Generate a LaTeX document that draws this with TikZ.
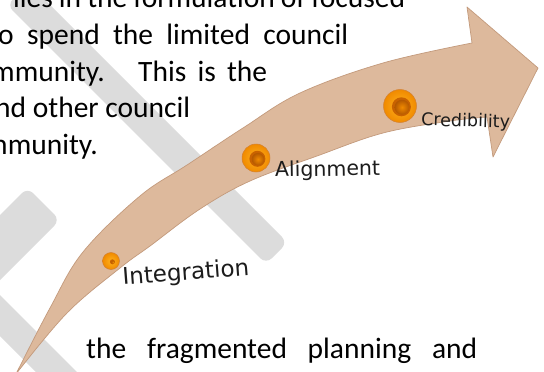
\documentclass[tikz,border=0pt]{standalone}
\usepackage{fontspec}
\setmainfont{Carlito}
\newfontfamily\labelfont{DejaVu Sans}
\usetikzlibrary{positioning}
\definecolor{wmgrey}{HTML}{DCDCDC}
\definecolor{arrowtan}{HTML}{DDB99C}
\definecolor{arrowedge}{HTML}{C39A7C}
\definecolor{sphlight}{HTML}{FFB21E}
\definecolor{sphorange}{HTML}{F08A00}
\definecolor{sphdark}{HTML}{C86200}
\definecolor{labelink}{HTML}{1C1C1C}

\begin{document}
\begin{tikzpicture}[
x=1pt,y=-1pt,
every node/.style={inner sep=0pt},
bodytext/.style={font=\fontsize{29.5}{36}\selectfont,anchor=base west},
steplabel/.style={font=\labelfont,anchor=base west,text=labelink},
wmband/.style={fill=wmgrey,rounded corners=8pt},
arrowbody/.style={fill=arrowtan,draw=arrowedge,line width=0.7pt,line join=round},
knob/.style={circle,inner color=sphlight,outer color=sphorange,draw=sphdark!80,line width=0.5pt}
]
\useasboundingbox (0,0) rectangle (544,372);
\clip (0,0) rectangle (544,372);
\fill[white] (0,0) rectangle (544,372);

% watermark bands
\fill[wmband] (7,5) -- (266,264) -- (287.5,242.5) -- (28.5,-16.5) -- cycle;
\fill[wmband] (27.5,187.5) -- (60,220) -- (-60,340) -- (-60,275) -- cycle;
\fill[wmband] (-60,235) -- (125,420) -- (84,420) -- (-60,276) -- cycle;

% curved arrow
\filldraw[arrowbody]
  plot[smooth,tension=0.6] coordinates {(16,374) (50,308) (83,252) (140,196)
    (187,165) (243,128) (300,93) (383,63) (472,43)}
  -- (467,7) -- (538,68) -- (493,157) -- (487,117)
  -- plot[smooth,tension=0.6] coordinates {(487,117) (450,121) (383,133)
    (317,156) (250,181) (200,209) (150,246) (120,268) (67,313) (16,374)}
  -- cycle;

% surrounding text
\node[bodytext] (line1) at (13,8) {\makebox[392pt][s]{lies in the formulation of focused}};
\node[bodytext] (line2) at (-2,44.5) {\makebox[350pt][s]{o spend the limited council}};
\node[bodytext] (line3a) at (-9,81) {mmunity.};
\node[bodytext] (line3b) at (138,81) {\makebox[129pt][s]{This is the}};
\node[bodytext] (line4) at (-5,117.5) {nd other council};
\node[bodytext] (line5) at (-16,154) {mmunity.};
\node[bodytext] (line6) at (86,358) {\makebox[391pt][s]{the fragmented planning and}};

% milestones
\node[knob,minimum size=17pt] (integ) at (111,261) {};
\node[knob,minimum size=28pt] (align) at (256,158) {};
\node[knob,minimum size=33pt] (cred) at (400,106) {};
\foreach \k/\r in {integ/2.5,align/8,cred/9.5}{
  \fill[sphdark] ([xshift=1.4pt,yshift=-0.8pt]\k.center) circle (\r pt);
  \shade[inner color=sphorange,outer color=sphdark!90!black]
    ([xshift=2pt,yshift=-1.2pt]\k.center) circle (0.78*\r pt);
}

\node[steplabel,rotate=4.4,font=\labelfont\fontsize{23}{23}\selectfont] (integlabel) at (123,285) {Integration};
\node[steplabel,rotate=1,font=\labelfont\fontsize{20.5}{20.5}\selectfont] (alignlabel) at (275,177) {Alignment};
\node[steplabel,rotate=-1.5,font=\labelfont\fontsize{17.5}{17.5}\selectfont] (credlabel) at (421,125.5) {Credibility};
\end{tikzpicture}
\end{document}
